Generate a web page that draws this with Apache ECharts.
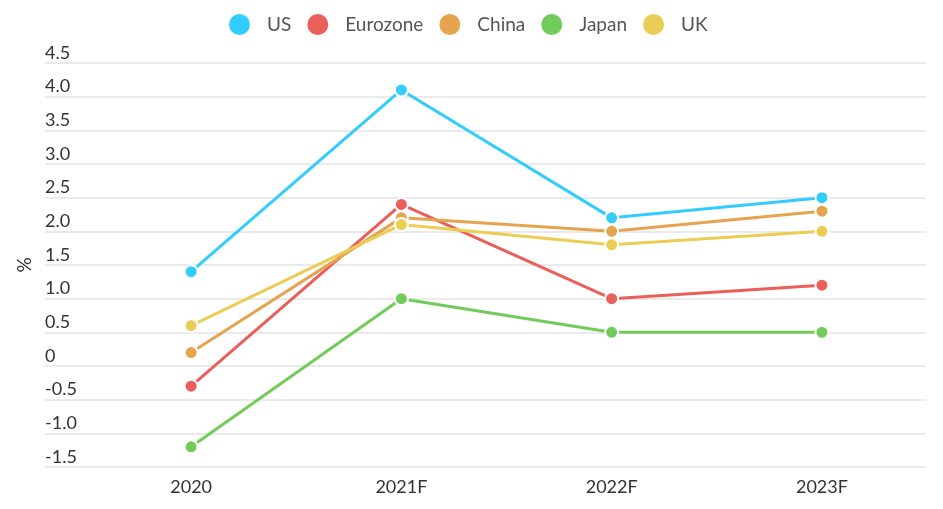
<!DOCTYPE html>
<html>
<head>
<meta charset="utf-8">
<script src="https://cdn.jsdelivr.net/npm/echarts@6/dist/echarts.min.js"></script>
<style>html,body{margin:0;padding:0;background:#fff}#c{width:943px;height:509px}</style>
</head>
<body>
<div id="c"></div>
<script>
const categories = ['2020', '2021F', '2022F', '2023F'];
const seriesNames = ['US', 'Eurozone', 'China', 'Japan', 'UK'];
const us = [1.4, 4.1, 2.2, 2.5];
const eurozone = [-0.3, 2.4, 1.0, 1.2];
const china = [0.2, 2.2, 2.0, 2.3];
const japan = [-1.2, 1.0, 0.5, 0.5];
const uk = [0.6, 2.1, 1.8, 2.0];
const yTicks = [-1.5, -1.0, -0.5, 0, 0.5, 1.0, 1.5, 2.0, 2.5, 3.0, 3.5, 4.0, 4.5];

const colors = ['#33CCFF', '#EB5F5A', '#E5A44F', '#73CB5C', '#EBCD55'];
const values = [us, eurozone, china, japan, uk];

const chart = echarts.init(document.getElementById('c'));
chart.setOption({
  animation: false,
  color: colors,
  textStyle: { fontFamily: 'Lato' },
  legend: {
    top: 12,
    left: 227,
    padding: 0,
    icon: 'circle',
    itemWidth: 23,
    itemHeight: 23,
    itemGap: 14,
    textStyle: { fontSize: 19, color: '#555', fontFamily: 'Lato', padding: [0, 0, 0, 11] },
    data: seriesNames
  },
  grid: { left: 45, right: 17, top: 63, bottom: 42 },
  xAxis: {
    type: 'value',
    min: -0.695,
    max: 3.495,
    axisLine: { show: false },
    axisTick: { show: false },
    splitLine: { show: false },
    axisLabel: {
      customValues: [0, 1, 2, 3],
      formatter: v => categories[Math.round(v)] || '',
      fontSize: 18,
      color: '#333',
      margin: 11,
      fontFamily: 'Lato'
    }
  },
  yAxis: {
    type: 'value',
    min: -1.5,
    max: 4.5,
    interval: 0.5,
    name: '%',
    nameLocation: 'middle',
    nameGap: 11,
    nameTextStyle: { fontSize: 19, color: '#333', fontFamily: 'Lato' },
    axisLine: { show: false },
    axisTick: { show: false },
    splitLine: { lineStyle: { color: '#e3e3e3', width: 1.5 } },
    axisLabel: {
      inside: true,
      margin: 0,
      verticalAlign: 'bottom',
      lineHeight: 20,
      fontSize: 18,
      color: '#333',
      fontFamily: 'Lato',
      formatter: v => {
        const t = yTicks.find(x => Math.abs(x - v) < 1e-6);
        if (t === undefined) return '';
        return t === 0 ? '0' : t.toFixed(1);
      }
    }
  },
  series: seriesNames.map((n, i) => ({
    name: n,
    type: 'line',
    data: values[i].map((v, j) => [j, v]),
    symbol: 'circle',
    symbolSize: 13,
    lineStyle: { width: 3, color: colors[i] },
    itemStyle: { color: colors[i], borderColor: '#fff', borderWidth: 2 }
  }))
});
</script>
</body>
</html>
